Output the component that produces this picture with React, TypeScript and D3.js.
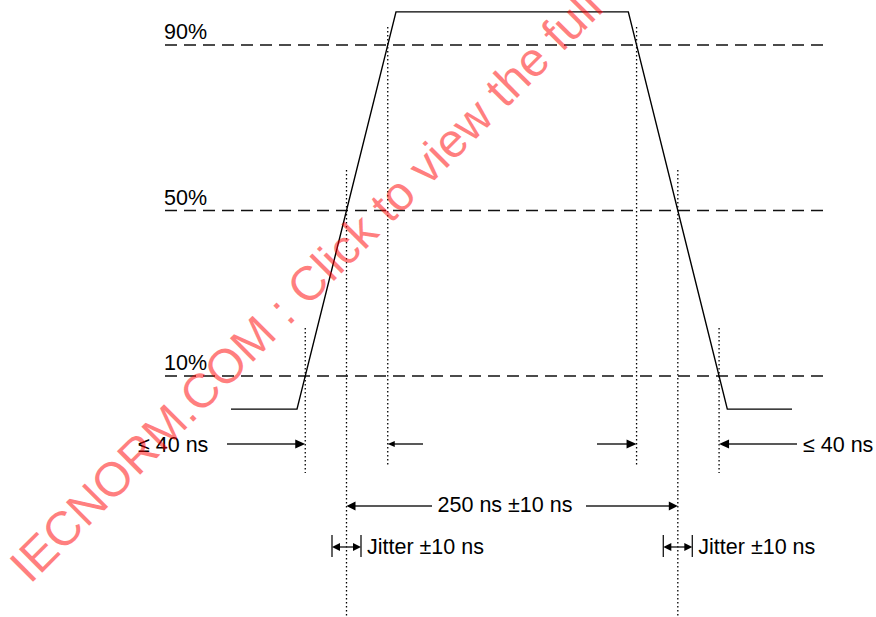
import React from "react";
import * as d3 from "d3";

// ---- data ----
const levels = [10, 50, 90];
const levelLabels = ["10%", "50%", "90%"];
// waveform corner points: time (ns, relative) and level (%)
const waveTime = [-88, -38, 37, 213, 288, 337];
const waveLevel = [2, 2, 98, 98, 2, 2];
const edgeLabel = "≤ 40 ns";
const widthLabel = "250 ns ±10 ns";
const jitterLabel = "Jitter ±10 ns";
const watermark = "IECNORM.COM : Click to view the full";

const W = 876;
const H = 617;
const FONT = "'Liberation Sans', Arial, Helvetica, sans-serif";

const x = d3.scaleLinear().domain([-88, 337]).range([231, 792]);
const y = d3.scaleLinear().domain([10, 90]).range([376, 45]);

const pts: [number, number][] = waveTime.map((t, i) => [t, waveLevel[i]]);

// find time where segment crosses a level
function crossing(level: number, rising: boolean): number {
  for (let i = 0; i < pts.length - 1; i++) {
    const [t0, v0] = pts[i];
    const [t1, v1] = pts[i + 1];
    if (rising && v1 > v0 && level >= v0 && level <= v1) return t0 + ((level - v0) / (v1 - v0)) * (t1 - t0);
    if (!rising && v1 < v0 && level <= v0 && level >= v1) return t0 + ((v0 - level) / (v0 - v1)) * (t1 - t0);
  }
  return 0;
}

function Head({ tipX, tipY, dir, len = 9, half = 4 }: { tipX: number; tipY: number; dir: 1 | -1; len?: number; half?: number }) {
  const bx = tipX - dir * len;
  return <path d={`M${tipX},${tipY}L${bx},${tipY - half}L${bx},${tipY + half}Z`} fill="#000" />;
}

export default function App() {
  const line = d3
    .line<[number, number]>()
    .x((d) => x(d[0]))
    .y((d) => y(d[1]));

  const r10 = x(crossing(10, true));
  const r50 = x(crossing(50, true));
  const r90 = x(crossing(90, true));
  const f90 = x(crossing(90, false));
  const f50 = x(crossing(50, false));
  const f10 = x(crossing(10, false));

  const dotted = { stroke: "#000", strokeWidth: 1.3, strokeDasharray: "1.4 2.6", fill: "none" } as const;
  const arrowY = 444;
  const wY = 506;
  const jY = 547;
  const jHalf = 14.5;

  const textStyle = { fontFamily: FONT, fontSize: 21.5, fill: "#000" } as const;

  return (
    <svg width={W} height={H} style={{ position: "absolute", left: 0, top: 0, background: "#fff" }}>
      <rect width={W} height={H} fill="#fff" />
      {/* level lines */}
      {levels.map((lv, i) => (
        <g key={lv}>
          <line x1={165} x2={826} y1={y(lv)} y2={y(lv)} stroke="#111" strokeWidth={1.3} strokeDasharray="12 7" />
          <text x={164} y={y(lv) - 6} style={textStyle}>
            {levelLabels[i]}
          </text>
        </g>
      ))}
      {/* waveform */}
      <path d={line(pts) || ""} fill="none" stroke="#000" strokeWidth={1.4} />
      {/* dotted verticals */}
      <line x1={r10} x2={r10} y1={328} y2={473} style={dotted} />
      <line x1={f10} x2={f10} y1={328} y2={473} style={dotted} />
      <line x1={r50} x2={r50} y1={170} y2={617} style={dotted} />
      <line x1={f50} x2={f50} y1={170} y2={617} style={dotted} />
      <line x1={r90} x2={r90} y1={27} y2={467} style={dotted} />
      <line x1={f90} x2={f90} y1={27} y2={467} style={dotted} />

      {/* edge time arrows */}
      <g stroke="#222" strokeWidth={1.5}>
        <line x1={227} x2={r10 - 6} y1={arrowY} y2={arrowY} />
        <line x1={r90 + 5} x2={423} y1={arrowY} y2={arrowY} />
        <line x1={597} x2={f90 - 5} y1={arrowY} y2={arrowY} />
        <line x1={f10 + 6} x2={797} y1={arrowY} y2={arrowY} />
      </g>
      <Head tipX={r10} tipY={arrowY} dir={1} len={10} half={4.5} />
      <Head tipX={r90} tipY={arrowY} dir={-1} len={7} half={3} />
      <Head tipX={f90} tipY={arrowY} dir={1} len={10} half={4.5} />
      <Head tipX={f10} tipY={arrowY} dir={-1} len={10} half={4.5} />
      <text x={138} y={452} style={textStyle}>{edgeLabel}</text>
      <text x={803} y={452} style={textStyle}>{edgeLabel}</text>

      {/* pulse width arrow */}
      <g stroke="#222" strokeWidth={1.5}>
        <line x1={r50 + 5} x2={432} y1={wY} y2={wY} />
        <line x1={586} x2={f50 - 5} y1={wY} y2={wY} />
      </g>
      <Head tipX={r50} tipY={wY} dir={-1} len={9} half={4.5} />
      <Head tipX={f50} tipY={wY} dir={1} len={9} half={4.5} />
      <text x={505} y={512} textAnchor="middle" style={textStyle}>{widthLabel}</text>

      {/* jitter */}
      {[r50, f50].map((c, i) => (
        <g key={i}>
          <line x1={c - jHalf} x2={c - jHalf} y1={535} y2={557} stroke="#222" strokeWidth={1.4} />
          <line x1={c + jHalf} x2={c + jHalf} y1={535} y2={557} stroke="#222" strokeWidth={1.4} />
          <line x1={c - jHalf + 4} x2={c + jHalf - 4} y1={jY} y2={jY} stroke="#222" strokeWidth={1.4} />
          <Head tipX={c - jHalf} tipY={jY} dir={-1} len={8} half={4} />
          <Head tipX={c + jHalf} tipY={jY} dir={1} len={8} half={4} />
          <text x={c + jHalf + 6} y={554} style={textStyle}>{jitterLabel}</text>
        </g>
      ))}

      {/* watermark */}
      <text
        x={0}
        y={0}
        transform="translate(30,585) rotate(-45)"
        style={{ fontFamily: FONT, fontSize: 48, fill: "rgba(255,0,0,0.5)" }}
      >
        {watermark}
      </text>
    </svg>
  );
}
